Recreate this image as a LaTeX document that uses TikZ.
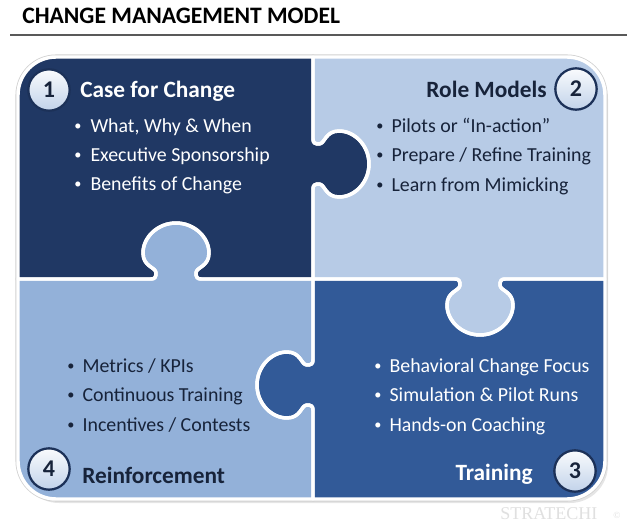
\documentclass[tikz,border=0pt]{standalone}
\usepackage{fontspec}
\usepackage{graphicx}
\setmainfont{Carlito}
\newfontfamily\wmfont{Liberation Serif}
\usetikzlibrary{calc,shadings}
\definecolor{pOne}{HTML}{203864}
\definecolor{pTwo}{HTML}{B7CBE6}
\definecolor{pThree}{HTML}{325A98}
\definecolor{pFour}{HTML}{93B1D9}
\definecolor{darktxt}{HTML}{17233A}
\definecolor{ringc}{HTML}{1C3158}
\newcommand\defknob[5]{%
  \foreach \n/\u/\v in {0/0/-25,1/0/-21,2/2/-20,3/6/-20,4/12/-20,5/12/-33,6/26/-33,7/42/-33,8/56/-18,9/56/0,10/56/18,11/42/33,12/26/33,13/12/33,14/12/20,15/6/20,16/2/20,17/0/21,18/0/25}{%
    \coordinate (#1-\n) at ({#2+(\u)*(#4)-(\v)*(#5)},{#3+(\u)*(#5)+(\v)*(#4)});
  }%
}
\newcommand\bul{\raisebox{0.1em}{\scalebox{0.72}{•}}}
\tikzset{
  knobF/.style={insert path={-- (#1-0) .. controls (#1-1) and (#1-2) .. (#1-3) .. controls (#1-4) and (#1-5) .. (#1-6) .. controls (#1-7) and (#1-8) .. (#1-9) .. controls (#1-10) and (#1-11) .. (#1-12) .. controls (#1-13) and (#1-14) .. (#1-15) .. controls (#1-16) and (#1-17) .. (#1-18)}},
  knobB/.style={insert path={-- (#1-18) .. controls (#1-17) and (#1-16) .. (#1-15) .. controls (#1-14) and (#1-13) .. (#1-12) .. controls (#1-11) and (#1-10) .. (#1-9) .. controls (#1-8) and (#1-7) .. (#1-6) .. controls (#1-5) and (#1-4) .. (#1-3) .. controls (#1-2) and (#1-1) .. (#1-0)}},
  grayedge/.style={draw=black!18, line width=3.8pt, line join=round},
  whiteedge/.style={draw=white, line width=2.6pt, line join=round},
  numc/.style={circle, minimum size=31pt, inner sep=0pt, top color=white!92!pTwo, bottom color=pTwo!85!white, draw=ringc, line width=1.7pt, font=\fontsize{18}{18}\selectfont\bfseries, text=darktxt},
  ttl/.style={inner sep=0pt, font=\fontsize{17.5}{20}\selectfont\bfseries},
  blt/.style={inner sep=0pt, anchor=base west, font=\fontsize{14.9}{18}\selectfont}
}
\newcommand\pathOne{(18,95) .. controls (18,74) and (35,57) .. (56,57) -- (313,57) [knobF=k12] -- (313,279) [knobB=k41] -- (18,279) -- cycle}
\newcommand\pathTwo{(313,57) -- (567,57) .. controls (588,57) and (605,74) .. (605,95) -- (605,279) [knobF=k23] -- (313,279) [knobB=k12] -- cycle}
\newcommand\pathThree{(313,279) [knobB=k23] -- (605,279) -- (605,461) .. controls (605,482) and (588,499) .. (567,499) -- (313,499) [knobF=k34] -- cycle}
\newcommand\pathFour{(18,279) [knobF=k41] -- (313,279) [knobB=k34] -- (313,499) -- (56,499) .. controls (35,499) and (18,482) .. (18,461) -- cycle}
\begin{document}
\begin{tikzpicture}[x=0.75pt,y=-0.75pt]
\useasboundingbox (0,0) rectangle (640,532);
\fill[white] (0,0) rectangle (640,532);
% header
\node[inner sep=0pt, anchor=base west, font=\fontsize{17.7}{20}\selectfont\bfseries] (head) at (22,23.5) {CHANGE MANAGEMENT MODEL};
\coordinate (ruleL) at (10,35);
\coordinate (ruleR) at (627,35);
\draw[black!65, line width=0.8pt] (ruleL) -- (ruleR);
% knobs
\defknob{k12}{313}{164}{1}{0}
\defknob{k23}{480}{279}{0}{1}
\defknob{k34}{313}{385}{-1}{0}
\defknob{k41}{176}{279}{0}{-1}
% shadow
\fill[black, opacity=0.10] (21,99) .. controls (21,78) and (38,61) .. (59,61) -- (570,61) .. controls (591,61) and (608,78) .. (608,99) -- (608,465) .. controls (608,486) and (591,503) .. (570,503) -- (59,503) .. controls (38,503) and (21,486) .. (21,465) -- cycle;
% pieces
\path[grayedge] \pathOne;
\path[grayedge] \pathTwo;
\path[grayedge] \pathThree;
\path[grayedge] \pathFour;
\fill[pOne] \pathOne;
\fill[pTwo] \pathTwo;
\fill[pThree] \pathThree;
\fill[pFour] \pathFour;
\path[whiteedge] \pathOne;
\path[whiteedge] \pathTwo;
\path[whiteedge] \pathThree;
\path[whiteedge] \pathFour;
% numbers
\node[numc] (n1) at (49,90) {1};
\node[numc] (n2) at (576,89) {2};
\node[numc] (n3) at (575,471) {3};
\node[numc] (n4) at (49,469) {4};
% titles
\node[ttl, text=white, anchor=base west] (t1) at (80,97) {Case for Change};
\node[ttl, text=darktxt, anchor=base east] (t2) at (547,97) {Role Models};
\node[ttl, text=white, anchor=base east] (t3) at (533,480) {Training};
\node[ttl, text=darktxt, anchor=base west] (t4) at (82,483) {Reinforcement};
% bullets
\foreach \t [count=\i] in {{What, Why \& When},{Executive Sponsorship},{Benefits of Change}}
  \node[blt, text=white] (ba-\i) at (74,{132+29*(\i-1)}) {\makebox[12.2pt][l]{\bul}\t};
\foreach \t [count=\i] in {{Pilots or “In-action”},{Prepare / Refine Training},{Learn from Mimicking}}
  \node[blt, text=darktxt] (bb-\i) at (376,{132+29.5*(\i-1)}) {\makebox[11.5pt][l]{\bul}\t};
\foreach \t [count=\i] in {{Behavioral Change Focus},{Simulation \& Pilot Runs},{Hands-on Coaching}}
  \node[blt, text=white] (bc-\i) at (374,{372+29.5*(\i-1)}) {\makebox[11.5pt][l]{\bul}\t};
\foreach \t [count=\i] in {{Metrics / KPIs},{Continuous Training},{Incentives / Contests}}
  \node[blt, text=darktxt] (bd-\i) at (67,{372+29.5*(\i-1)}) {\makebox[11.5pt][l]{\bul}\t};
% watermark
\node[inner sep=0pt, anchor=base west, text=black!12, font=\wmfont\fontsize{13.5}{14}\selectfont] (wm) at (500,519) {STRATECHI};
\node[inner sep=0pt, anchor=base west, text=black!12, font=\wmfont\fontsize{7}{8}\selectfont] (wmc) at (613,518) {©};
\end{tikzpicture}
\end{document}
